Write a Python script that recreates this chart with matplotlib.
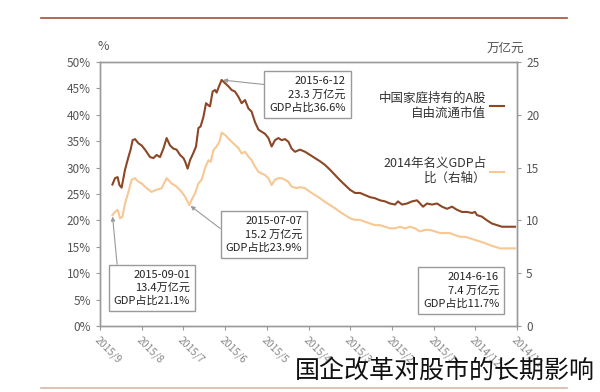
import numpy as np
import matplotlib
matplotlib.use("Agg")
import matplotlib.pyplot as plt
from matplotlib.lines import Line2D

plt.rcParams['font.family'] = ['Noto Sans CJK SC', 'DejaVu Sans']

# x positions are trading-day index from the left edge of the chart
tick_labels = ['2015/9', '2015/8', '2015/7', '2015/6', '2015/5', '2015/4',
               '2015/3', '2015/2', '2015/1', '2014/12', '2014/11']

# market value of A-shares held by households (万亿元, right axis)
dark_x = [6.2, 7.5, 8.8, 9.7, 10.8, 12.5, 14.2, 15.3, 16.3, 17.5, 19.2, 20.8,
          22.5, 25, 26.7, 28.3, 30, 31.7, 33.3, 35, 36.7, 38.3, 40, 41.7,
          42.5, 43.8, 45, 46.7, 48, 49.2, 50.3, 51.7, 53, 54.2, 55, 56.3,
          57.5, 58.3, 59.7, 60.8, 62.5, 64.2, 65.8, 67.5, 69.2, 70.8, 72.5,
          74.2, 75.8, 77.5, 79.2, 80.8, 82.5, 84.2, 85.8, 87.5, 89.2, 90.8,
          92.5, 94.2, 95.8, 97.5, 100, 102.5, 105, 107.5, 110, 112.5, 115,
          117.5, 120, 122.5, 125, 127.5, 130, 132.5, 135, 137.5, 140, 142.5,
          145, 147.5, 149, 151, 153.5, 156, 158.5, 160, 161.5, 163.5, 166,
          168.5, 171, 173.5, 176, 178.5, 181, 183.5, 186, 187.5, 188.5, 191,
          193.5, 196, 198.5, 201, 203.5, 207.5]
dark_val = [13.4, 14.0, 14.1, 13.35, 13.1, 14.8, 16.0, 16.7, 17.6, 17.7, 17.3,
            17.1, 16.7, 16.0, 15.9, 16.2, 16.0, 16.8, 17.8, 17.1, 16.8, 16.7,
            16.2, 15.9, 15.6, 14.9, 15.7, 16.4, 17.0, 18.75, 18.9, 19.8, 21.1,
            20.9, 20.8, 22.2, 22.35, 22.1, 22.8, 23.3, 23.0, 22.7, 22.35, 22.2,
            21.7, 21.1, 21.4, 20.6, 20.3, 19.3, 18.6, 18.4, 18.2, 17.8, 17.0,
            17.6, 17.8, 17.6, 17.7, 17.45, 16.8, 16.5, 16.7, 16.5, 16.2, 15.9,
            15.6, 15.25, 14.8, 14.3, 13.8, 13.35, 12.9, 12.6, 12.6, 12.4, 12.2,
            12.1, 11.9, 11.8, 11.6, 11.5, 11.8, 11.5, 11.6, 11.8, 11.9, 11.6,
            11.3, 11.6, 11.5, 11.6, 11.3, 11.1, 11.3, 11.0, 10.8, 10.8, 10.7,
            10.8, 10.5, 10.35, 10.0, 9.7, 9.55, 9.4, 9.4, 9.4]

# share of 2014 nominal GDP (%, left axis)
light_x = [6.2, 7.5, 8.8, 10, 11.2, 12.5, 14.2, 15.8, 17.5, 19.2, 20.8, 23.3,
           25.8, 28.3, 30.8, 33.3, 35.8, 38.3, 40.8, 42.5, 44.7, 45.8, 47.5,
           49.2, 50.8, 52.5, 54.2, 55.3, 56.7, 58.3, 59.7, 60.8, 62.5, 64.2,
           65.8, 67.5, 69.2, 70.8, 72.5, 74.2, 75.8, 77.5, 79.2, 80.8, 82.5,
           84.2, 85.8, 87.5, 89.2, 90.8, 92.5, 94.2, 95.8, 98.3, 100, 102.5,
           105, 107.5, 110, 112.5, 115, 117.5, 120, 122.5, 125, 127.5, 130,
           132.5, 135, 137.5, 140, 142.5, 145, 147.5, 150, 152.5, 155, 157.5,
           160, 162.5, 165, 167.5, 170, 172.5, 175, 177.5, 180, 182.5, 185,
           187.5, 190, 192.5, 195, 197.5, 200, 203.5, 207.5]
light_val = [21.0, 21.6, 22.0, 20.4, 20.7, 23.2, 25.4, 27.7, 28.0, 27.3, 27.0,
             26.1, 25.4, 25.8, 26.1, 28.0, 27.0, 26.4, 25.4, 24.5, 22.9, 23.9,
             25.1, 27.0, 27.7, 29.9, 31.4, 31.1, 33.3, 34.0, 34.9, 36.6, 36.2,
             35.5, 34.9, 34.3, 33.7, 32.7, 33.0, 32.1, 31.4, 30.2, 29.2, 28.9,
             28.6, 28.0, 26.7, 27.7, 28.0, 28.0, 27.7, 27.3, 26.4, 26.1, 26.3,
             26.1, 25.4, 24.8, 24.2, 23.5, 22.9, 22.3, 21.6, 21.0, 20.4, 20.1,
             20.1, 19.75, 19.4, 19.1, 19.1, 18.8, 18.5, 18.5, 18.8, 18.5, 18.8,
             18.5, 17.9, 18.2, 18.2, 17.9, 17.6, 17.6, 17.6, 17.2, 16.9, 16.9,
             16.6, 16.3, 16.0, 15.7, 15.3, 15.0, 14.7, 14.7, 14.7]

notes = ['2015-6-12\n23.3 万亿元\nGDP占比36.6%',
         '2015-07-07\n15.2 万亿元\nGDP占比23.9%',
         '2015-09-01\n13.4万亿元\nGDP占比21.1%',
         '2014-6-16\n7.4 万亿元\nGDP占比11.7%']

dark_c = '#8B4726'
light_c = '#F7C794'
grey = '#9a9a9a'
tick_c = '#555555'

fig = plt.figure(figsize=(6, 3.92), dpi=100)
ax = fig.add_axes([0.1667, 0.1684, 0.695, 0.6734])
ax2 = ax.twinx()

ax.plot(light_x, light_val, color=light_c, lw=1.5)
ax2.plot(dark_x, dark_val, color=dark_c, lw=1.5)

span = 208.5
ax.set_xlim(0, span)
ax.set_ylim(0, 50)
ax2.set_ylim(0, 25)
ax.set_yticks(np.arange(0, 51, 5))
ax.set_yticklabels([f'{v}%' for v in range(0, 51, 5)])
ax2.set_yticks(np.arange(0, 26, 5))
ax.set_xticks(np.linspace(0, span, len(tick_labels)))
ax.set_xticklabels(tick_labels, rotation=-45, ha='left', va='top',
                   rotation_mode='anchor')

for a in (ax, ax2):
    for s in a.spines.values():
        s.set_color(grey)
        s.set_linewidth(1.0)
    a.tick_params(colors=grey, labelcolor=tick_c, labelsize=8.5, length=3,
                  width=0.8)
ax.tick_params(axis='x', labelcolor='#888888', labelsize=7.5, pad=3)

fig.text(103 / 600, 1 - 47 / 392, '%', fontsize=9, color=tick_c,
         ha='center', va='center')
fig.text(505 / 600, 1 - 48 / 392, '万亿元', fontsize=9, color=tick_c,
         ha='center', va='center')

# legend, handles on the right side
handles = [Line2D([], [], color=dark_c, lw=1.5),
           Line2D([], [], color=light_c, lw=1.5)]
leg = ax.legend(handles, ['中国家庭持有的A股\n自由流通市值',
                          '2014年名义GDP占\n比（右轴）'],
                markerfirst=False, frameon=False, fontsize=9,
                handlelength=1.1, handletextpad=0.3, labelspacing=3.0,
                loc='upper right', bbox_to_anchor=(0.995, 0.93))
for t in leg.get_texts():
    t.set_multialignment('right')
    t.set_color('#333333')

box = dict(boxstyle='square,pad=0.45', fc='white', ec=grey, lw=1.0)
arrow = dict(arrowstyle='-|>', color=grey, lw=0.8, mutation_scale=6,
             shrinkA=0, shrinkB=1)
kw = dict(textcoords='figure pixels', fontsize=8, color='#222222',
          ha='center', va='center', multialignment='right', bbox=box,
          linespacing=1.35)

ax2.annotate(notes[0], xy=(dark_x[39], dark_val[39]), xytext=(307.5, 297.5),
             arrowprops=dict(arrow, relpos=(0, 0.76)), **kw)
ax.annotate(notes[1], xy=(light_x[20], light_val[20]), xytext=(264, 157.5),
            arrowprops=dict(arrow, relpos=(0, 0.55)), **kw)
ax.annotate(notes[2], xy=(light_x[0], light_val[0]), xytext=(152, 104),
            arrowprops=dict(arrow, relpos=(0.05, 1)), **kw)
ax.annotate(notes[3], xy=(0, 0), xytext=(461, 101.5), **kw)

# page rules
fig.add_artist(Line2D([41 / 600, 567 / 600], [1 - 18 / 392] * 2,
                      color='#A0503A', lw=1.2))
fig.add_artist(Line2D([41 / 600, 567 / 600], [1 - 388 / 392] * 2,
                      color='#D9B8A8', lw=1.2))

fig.text(295 / 600, 1 - 371 / 392, '国企改革对股市的长期影响', fontsize=18,
         color='#111111', ha='left', va='center', weight='light')

fig.savefig('out.png', dpi=100, facecolor='white')
